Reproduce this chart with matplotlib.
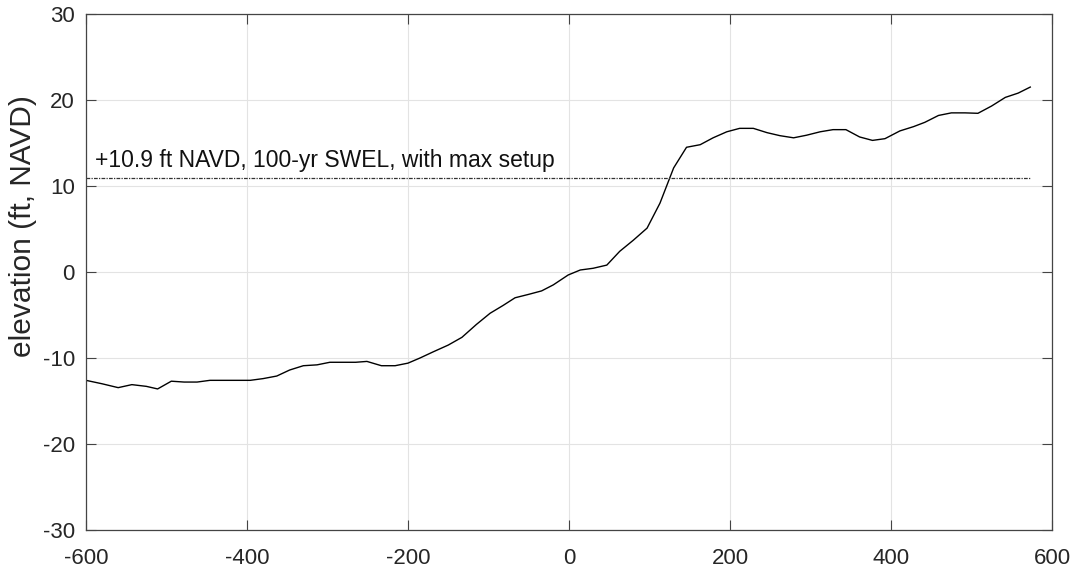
import matplotlib
matplotlib.use("Agg")
import matplotlib.pyplot as plt

# Profile station (ft) and elevation (ft, NAVD)
station = [-600, -580, -560, -543, -525, -511, -494, -478, -462, -446, -430, -413, -396,
           -380, -363, -347, -330, -313, -297, -280, -265, -251, -233, -216, -200,
           -185, -169, -150, -133, -115, -98, -82, -67, -50, -34, -19.5, -1, 14, 30, 47,
           63, 80, 97, 113, 130, 146, 163, 179, 196, 212, 229, 246, 262, 279, 295,
           312, 328, 344, 361, 377, 392.5, 411, 428, 442, 459, 475, 492, 508, 525,
           542, 558, 573]
elevation = [-12.6, -13.0, -13.45, -13.1, -13.3, -13.6, -12.7, -12.8, -12.8, -12.6, -12.6, -12.6, -12.6,
             -12.4, -12.1, -11.4, -10.9, -10.8, -10.5, -10.5, -10.5, -10.4, -10.9, -10.9, -10.6,
             -10.0, -9.3, -8.5, -7.6, -6.1, -4.8, -3.9, -3.0, -2.6, -2.2, -1.5, -0.35, 0.23, 0.43, 0.8,
             2.4, 3.7, 5.1, 8.0, 12.1, 14.5, 14.8, 15.6, 16.3, 16.7, 16.7, 16.2, 15.85, 15.6, 15.9,
             16.3, 16.55, 16.55, 15.7, 15.3, 15.5, 16.4, 16.9, 17.4, 18.2, 18.5, 18.5, 18.45, 19.3,
             20.3, 20.8, 21.5]

swel = 10.9
swel_label = "+10.9 ft NAVD, 100-yr SWEL, with max setup"
ylabel = "elevation (ft, NAVD)"
xticks = [-600, -400, -200, 0, 200, 400, 600]
yticks = [-30, -20, -10, 0, 10, 20, 30]

plt.rcParams['font.family'] = ['Liberation Sans', 'DejaVu Sans']
plt.rcParams['axes.unicode_minus'] = False

fig = plt.figure(figsize=(10.76, 5.75), dpi=100)
ax = fig.add_axes([0.0799, 0.0783, 0.8978, 0.8974])

ax.plot(station, elevation, color='black', lw=1.0)
ax.plot([station[0], station[-1]], [swel, swel], color='#333333', lw=0.9,
        linestyle=(0, (3, 1, 1, 1)))
ax.text(-589, 12.2, swel_label, fontsize=16.5, va='baseline', ha='left', color='#111111')

ax.set_xlim(-600, 600)
ax.set_ylim(-30, 30)
ax.set_xticks(xticks)
ax.set_yticks(yticks)
ax.tick_params(direction='in', top=True, right=True, labelsize=16, length=7.2,
               color='#444444', labelcolor='#262626')
ax.tick_params(axis='x', pad=13)
ax.tick_params(axis='y', pad=8)
ax.grid(True, color='#e3e3e3', lw=0.8)
for s in ax.spines.values():
    s.set_color('#444444')
    s.set_linewidth(0.9)
fig.text(23 / 1076, 1 - 226 / 575, ylabel, rotation=90, ha='center', va='center',
         fontsize=21.5, color='#262626')

fig.savefig('out.png', dpi=100)
